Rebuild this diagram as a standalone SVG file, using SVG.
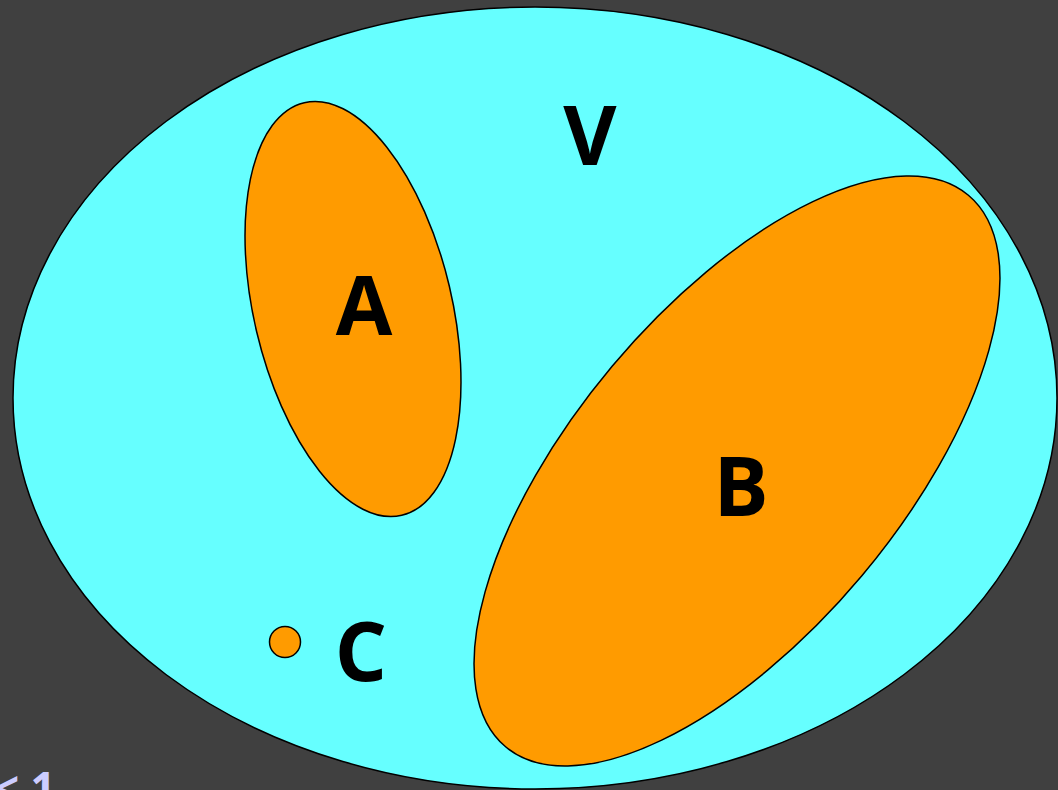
<svg xmlns="http://www.w3.org/2000/svg" width="1058" height="790" viewBox="0 0 1058 790">
<style>
.set{fill:#ff9b00;stroke:#000;stroke-width:1.5}
.lbl{font-family:"Open Sans","Liberation Sans",sans-serif;font-weight:bold;font-size:82px;fill:#000;text-anchor:middle}
</style>
<rect width="1058" height="790" fill="#404040"/>
<text x="-6" y="804" font-family="'Open Sans','Liberation Sans',sans-serif" font-weight="bold" font-size="44" fill="#ccccff">&lt; 1</text>
<g id="V">
<ellipse cx="535" cy="398" rx="522" ry="391" fill="#66ffff" stroke="#000" stroke-width="1.5"/>
<text class="lbl" x="590" y="165">V</text>
</g>
<g id="A">
<ellipse class="set" cx="0" cy="0" rx="99" ry="212" transform="translate(353,309) rotate(-13.3)"/>
<text class="lbl" x="364" y="335">A</text>
</g>
<g id="B">
<ellipse class="set" cx="0" cy="0" rx="163" ry="360" transform="translate(737,471) rotate(40)"/>
<text class="lbl" x="741" y="516">B</text>
</g>
<g id="C">
<circle class="set" cx="285" cy="642" r="15.5"/>
<text class="lbl" x="361" y="681">C</text>
</g>
<g id="connectors"/>
</svg>
